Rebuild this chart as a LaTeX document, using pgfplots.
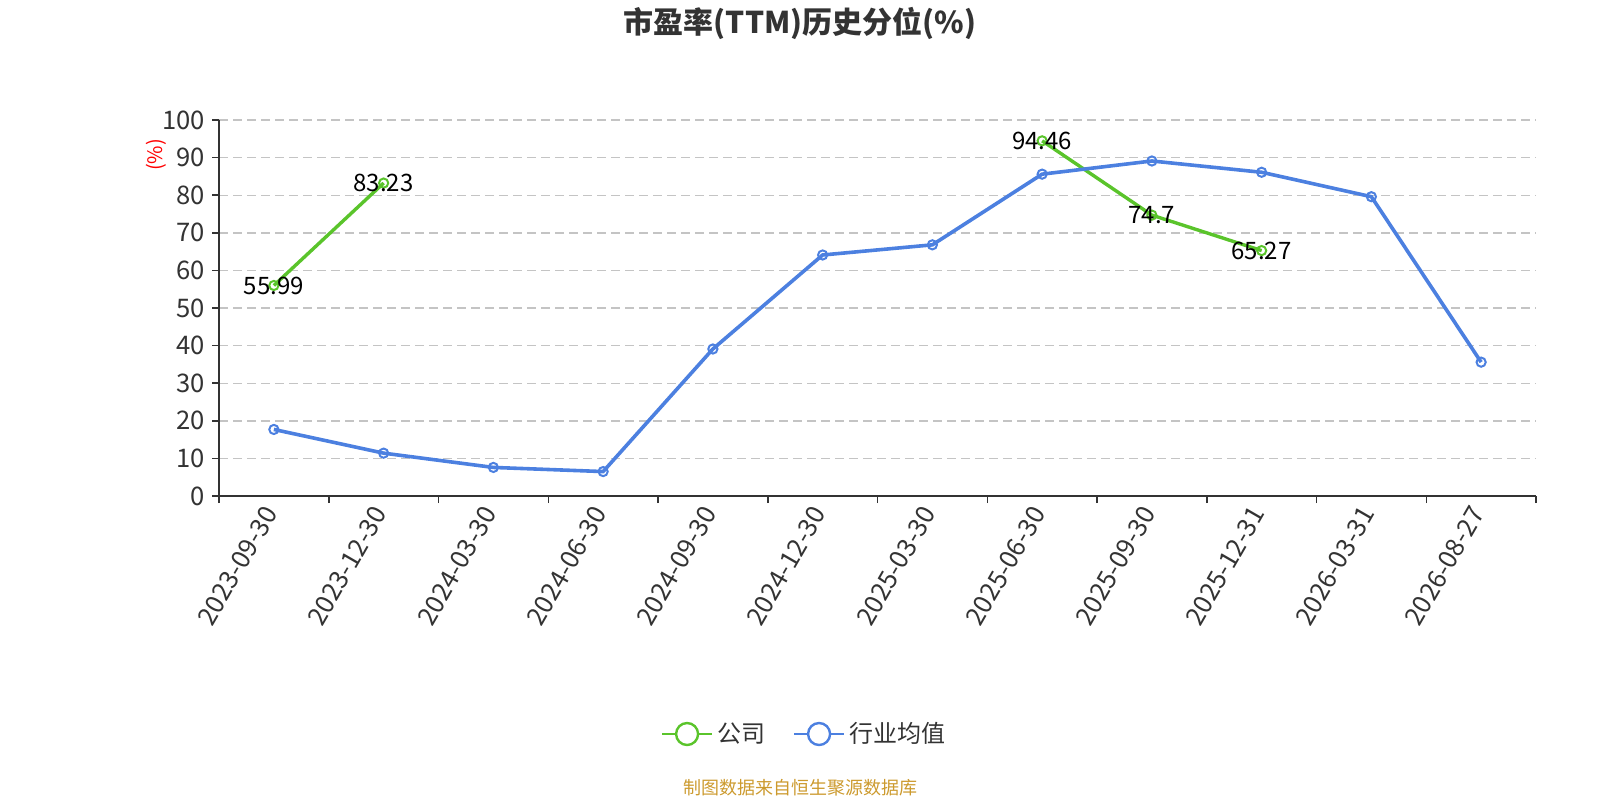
\documentclass[border=0pt]{standalone}
\usepackage{fontspec}
\setmainfont{Noto Sans CJK SC}
\usepackage{pgfplots}
\pgfplotsset{compat=1.18}
\definecolor{cgreen}{HTML}{5AC42B}
\definecolor{cblue}{HTML}{4C80E0}
\definecolor{ctext}{HTML}{333333}
\definecolor{cgrid}{HTML}{C4C4C4}
\definecolor{csrc}{HTML}{CC9A2E}
\begin{document}
\begin{tikzpicture}
\path[use as bounding box] (0,0) rectangle (800pt,400pt);
\begin{axis}[
  at={(109.5pt,152pt)}, anchor=south west,
  width=658.5pt, height=188pt, scale only axis,
  xmin=-0.5, xmax=11.5, ymin=0, ymax=100,
  ytick={0,10,...,100},
  xtick={-0.5,0.5,...,11.5},
  xticklabels={},
  extra x ticks={0,...,11},
  extra x tick labels={2023-09-30,2023-12-30,2024-03-30,2024-06-30,2024-09-30,2024-12-30,2025-03-30,2025-06-30,2025-09-30,2025-12-31,2026-03-31,2026-08-27},
  extra x tick style={tick style={draw=none}, grid=none},
  axis lines=left,
  axis line style={-, ctext, line width=0.75pt},
  ymajorgrids,
  grid style={cgrid, dash pattern=on 4.5pt off 2.5pt, line width=0.7pt},
  tick style={ctext, line width=0.75pt},
  tick align=outside,
  major tick length=3.5pt,
  ticklabel style={font=\fontsize{12.8}{12.8}\selectfont, text=ctext},
  xticklabel style={rotate=60, anchor=east},
  /pgf/number format/assume math mode=true,
  unbounded coords=jump,
  clip=false,
  legend style={at={(0.445,-0.633)}, anchor=center, draw=none, fill=none,
    legend columns=2, font=\fontsize{12}{12}\selectfont, text=ctext,
    /tikz/every even column/.append style={column sep=12pt}},
]
\addplot[cgreen, line width=1.7pt, mark=o, mark size=2.3pt, mark options={fill=white, line width=1pt},
  nodes near coords, point meta=explicit symbolic,
  every node near coord/.append style={anchor=center, text=black, font=\fontsize{12}{12}\selectfont},
  legend image code/.code={\draw[cgreen, line width=1pt] (0pt,0pt) -- (25pt,0pt); \draw[cgreen, line width=1.2pt, fill=white] (12.5pt,0pt) circle (5.5pt);}]
  table[meta=lab] {
x y lab
0 55.99 55.99
1 83.23 83.23
2 nan {}
3 nan {}
4 nan {}
5 nan {}
6 nan {}
7 94.46 94.46
8 74.7 74.7
9 65.27 65.27
10 nan {}
11 nan {}
};
\addlegendentry{公司}
\addplot[cblue, line width=1.8pt, mark=o, mark size=2.3pt, mark options={fill=white, line width=1pt},
  legend image code/.code={\draw[cblue, line width=1pt] (0pt,0pt) -- (25pt,0pt); \draw[cblue, line width=1.2pt, fill=white] (12.5pt,0pt) circle (5.5pt);}]
  table {
x y
0 17.7
1 11.4
2 7.6
3 6.5
4 39.1
5 64.1
6 66.8
7 85.6
8 89.1
9 86.1
10 79.6
11 35.6
};
\addlegendentry{行业均值}
\end{axis}
\node[font=\fontsize{15}{15}\selectfont\bfseries, text=ctext] at (400pt,388.5pt) {市盈率(TTM)历史分位(\%)};
\node[font=\fontsize{10}{10}\selectfont, text=red, rotate=90] at (78pt,322.5pt) {(\%)};
\node[font=\fontsize{9}{9}\selectfont, text=csrc] at (400pt,6pt) {制图数据来自恒生聚源数据库};
\end{tikzpicture}
\end{document}
